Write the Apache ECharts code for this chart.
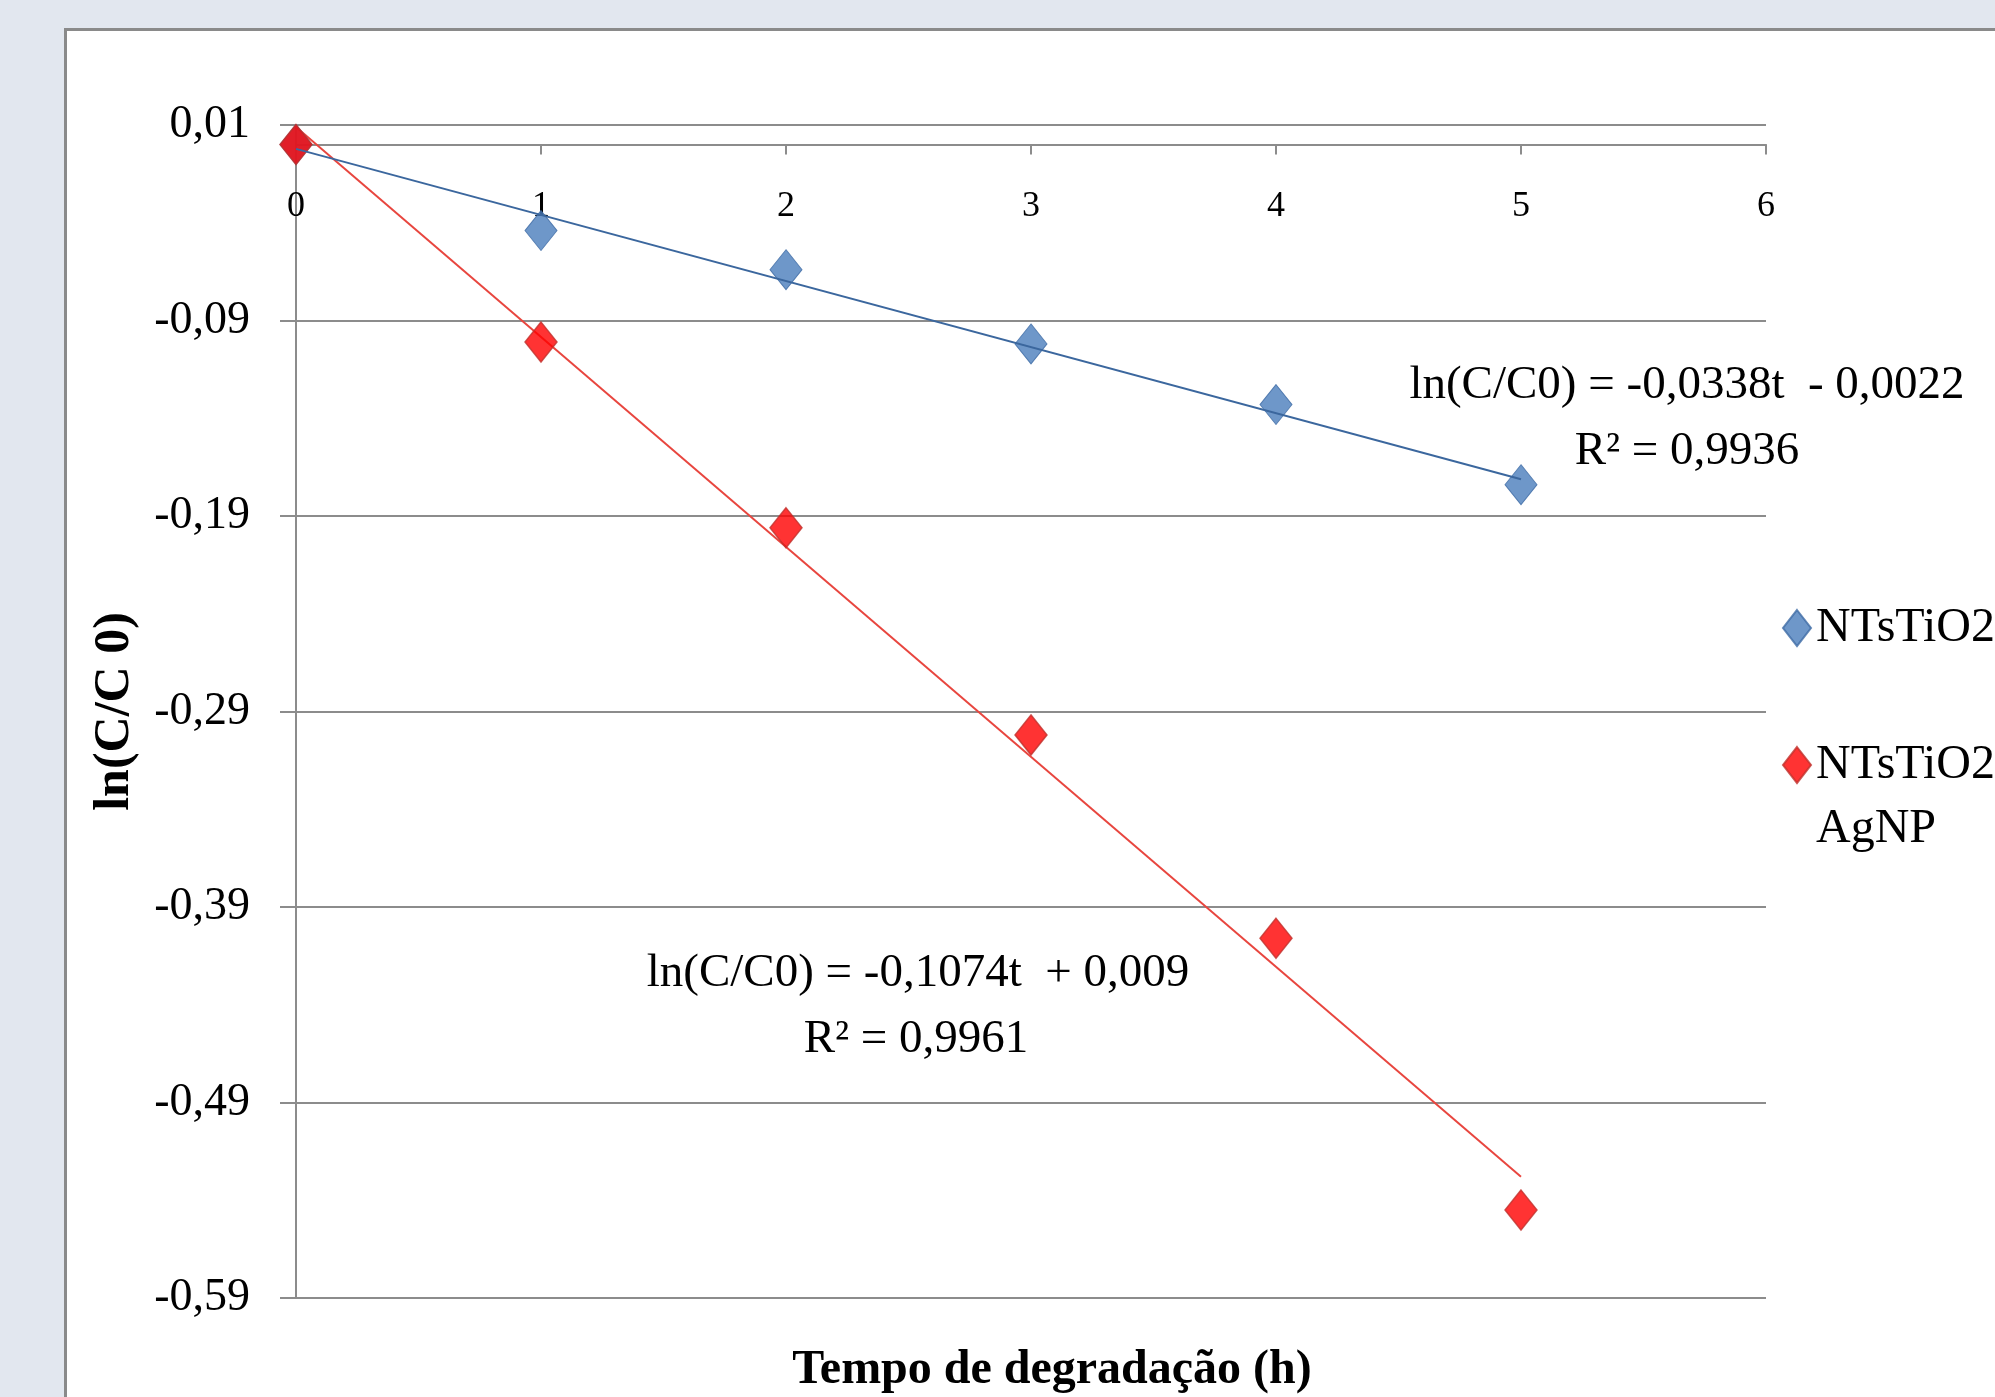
<!DOCTYPE html>
<html>
<head>
<meta charset="utf-8">
<script src="https://cdn.jsdelivr.net/npm/echarts@6/dist/echarts.min.js"></script>
<style>
  html, body { margin: 0; padding: 0; background: #e2e7ef; }
  #panel {
    position: absolute; left: 64px; top: 28px; width: 2000px; height: 1500px;
    background: #ffffff; border: 3px solid #8a8a8a; box-sizing: border-box;
  }
  #chart { position: absolute; left: 0; top: 0; width: 1995px; height: 1397px; }
</style>
</head>
<body>
<div id="panel"></div>
<div id="chart"></div>
<script>
// time in hours
const timeH = [0, 1, 2, 3, 4, 5];
// ln(C/C0)
const tio2Values = [0.0, -0.044, -0.064, -0.102, -0.133, -0.174];
const tio2AgValues = [0.0, -0.101, -0.196, -0.302, -0.406, -0.545];
// linear trendlines, ends at t = 0 and t = 5
const fitTime = [0, 5];
const tio2Fit = [-0.0022, -0.1712];
const tio2AgFit = [0.009, -0.528];

const seriesNames = ["NTsTiO2", "NTsTiO2 AgNP"];
const yMin = -0.59, yMax = 0.01, yStep = 0.1;
const xMin = 0, xMax = 6, xStep = 1;

const serif = "'Liberation Serif', 'Times New Roman', serif";
const gridGray = "#8c8c8c";

const gridTop = 125, gridBottom = 99, chartH = 1397;
const plotH = chartH - gridTop - gridBottom;
// the x axis sits on y = 0, labels and ticks hang below it
const zeroUp = plotH * (0 - yMin) / (yMax - yMin);

const pairs = (xs, ys) => xs.map((x, i) => [x, ys[i]]);
const commaNum = (v) => v.toFixed(2).replace(".", ",");

const chart = echarts.init(document.getElementById("chart"));

chart.setOption({
  backgroundColor: "transparent",
  animation: false,
  grid: { left: 296, right: 229, top: gridTop, bottom: gridBottom },
  xAxis: {
    type: "value",
    position: "bottom",
    offset: -zeroUp,
    min: xMin,
    max: xMax,
    interval: xStep,
    axisLine: { onZero: false, lineStyle: { color: gridGray, width: 2 } },
    axisTick: { length: 10, lineStyle: { color: gridGray, width: 2 } },
    axisLabel: { margin: 44, fontSize: 36, fontFamily: serif, color: "#000" },
    splitLine: { show: false }
  },
  yAxis: {
    type: "value",
    min: yMin,
    max: yMax,
    interval: yStep,
    name: "ln(C/C 0)",
    nameLocation: "middle",
    nameRotate: 90,
    nameGap: 156,
    nameTextStyle: { fontSize: 50, fontWeight: "bold", fontFamily: serif, color: "#000" },
    axisLine: { show: true, onZero: false, lineStyle: { color: gridGray, width: 2 } },
    axisTick: { show: true, length: 16, lineStyle: { color: gridGray, width: 2 } },
    axisLabel: {
      margin: 46, fontSize: 46, fontFamily: serif, color: "#000",
      formatter: (v) => commaNum(v)
    },
    splitLine: { lineStyle: { color: gridGray, width: 2 } }
  },
  legend: {
    orient: "vertical",
    left: 1777,
    top: 591,
    itemGap: 9,
    itemWidth: 28,
    itemHeight: 36,
    data: [
      { name: seriesNames[0], icon: "diamond" },
      { name: seriesNames[1], icon: "diamond" }
    ],
    formatter: (name) => name === seriesNames[1] ? " \nNTsTiO2\nAgNP" : name,
    textStyle: { fontSize: 48, fontFamily: serif, color: "#000", lineHeight: 64 }
  },
  graphic: [
    {
      type: "text", x: 1687, y: 386,
      style: { text: "ln(C/C0) = -0,0338t  - 0,0022", fontSize: 47, fontFamily: serif,
               fill: "#000", align: "center", verticalAlign: "middle" }
    },
    {
      type: "text", x: 1687, y: 452,
      style: { text: "R² = 0,9936", fontSize: 47, fontFamily: serif,
               fill: "#000", align: "center", verticalAlign: "middle" }
    },
    {
      type: "text", x: 918, y: 974,
      style: { text: "ln(C/C0) = -0,1074t  + 0,009", fontSize: 47, fontFamily: serif,
               fill: "#000", align: "center", verticalAlign: "middle" }
    },
    {
      type: "text", x: 916, y: 1040,
      style: { text: "R² = 0,9961", fontSize: 47, fontFamily: serif,
               fill: "#000", align: "center", verticalAlign: "middle" }
    },
    {
      type: "text", x: 1052, y: 1371,
      style: { text: "Tempo de degradação (h)", fontSize: 48, fontWeight: "bold", fontFamily: serif,
               fill: "#000", align: "center", verticalAlign: "middle" }
    }
  ],
  series: [
    {
      name: "fit " + seriesNames[1],
      type: "line",
      data: pairs(fitTime, tio2AgFit),
      showSymbol: false,
      lineStyle: { color: "#e8463f", width: 2 },
      z: 3
    },
    {
      name: seriesNames[0],
      type: "scatter",
      data: pairs(timeH, tio2Values),
      symbol: "diamond",
      symbolSize: [32, 40],
      itemStyle: { color: "#4a7dbb", borderColor: "#3e6ca5", borderWidth: 1 },
      z: 4
    },
    {
      name: seriesNames[1],
      type: "scatter",
      data: pairs(timeH, tio2AgValues),
      symbol: "diamond",
      symbolSize: [32, 40],
      itemStyle: { color: "#ff0000", borderColor: "#c0302b", borderWidth: 1.5 },
      z: 4
    },
    {
      name: "fit " + seriesNames[0],
      type: "line",
      data: pairs(fitTime, tio2Fit),
      showSymbol: false,
      lineStyle: { color: "#3b679e", width: 2 },
      z: 5
    }
  ]
});
</script>
</body>
</html>
